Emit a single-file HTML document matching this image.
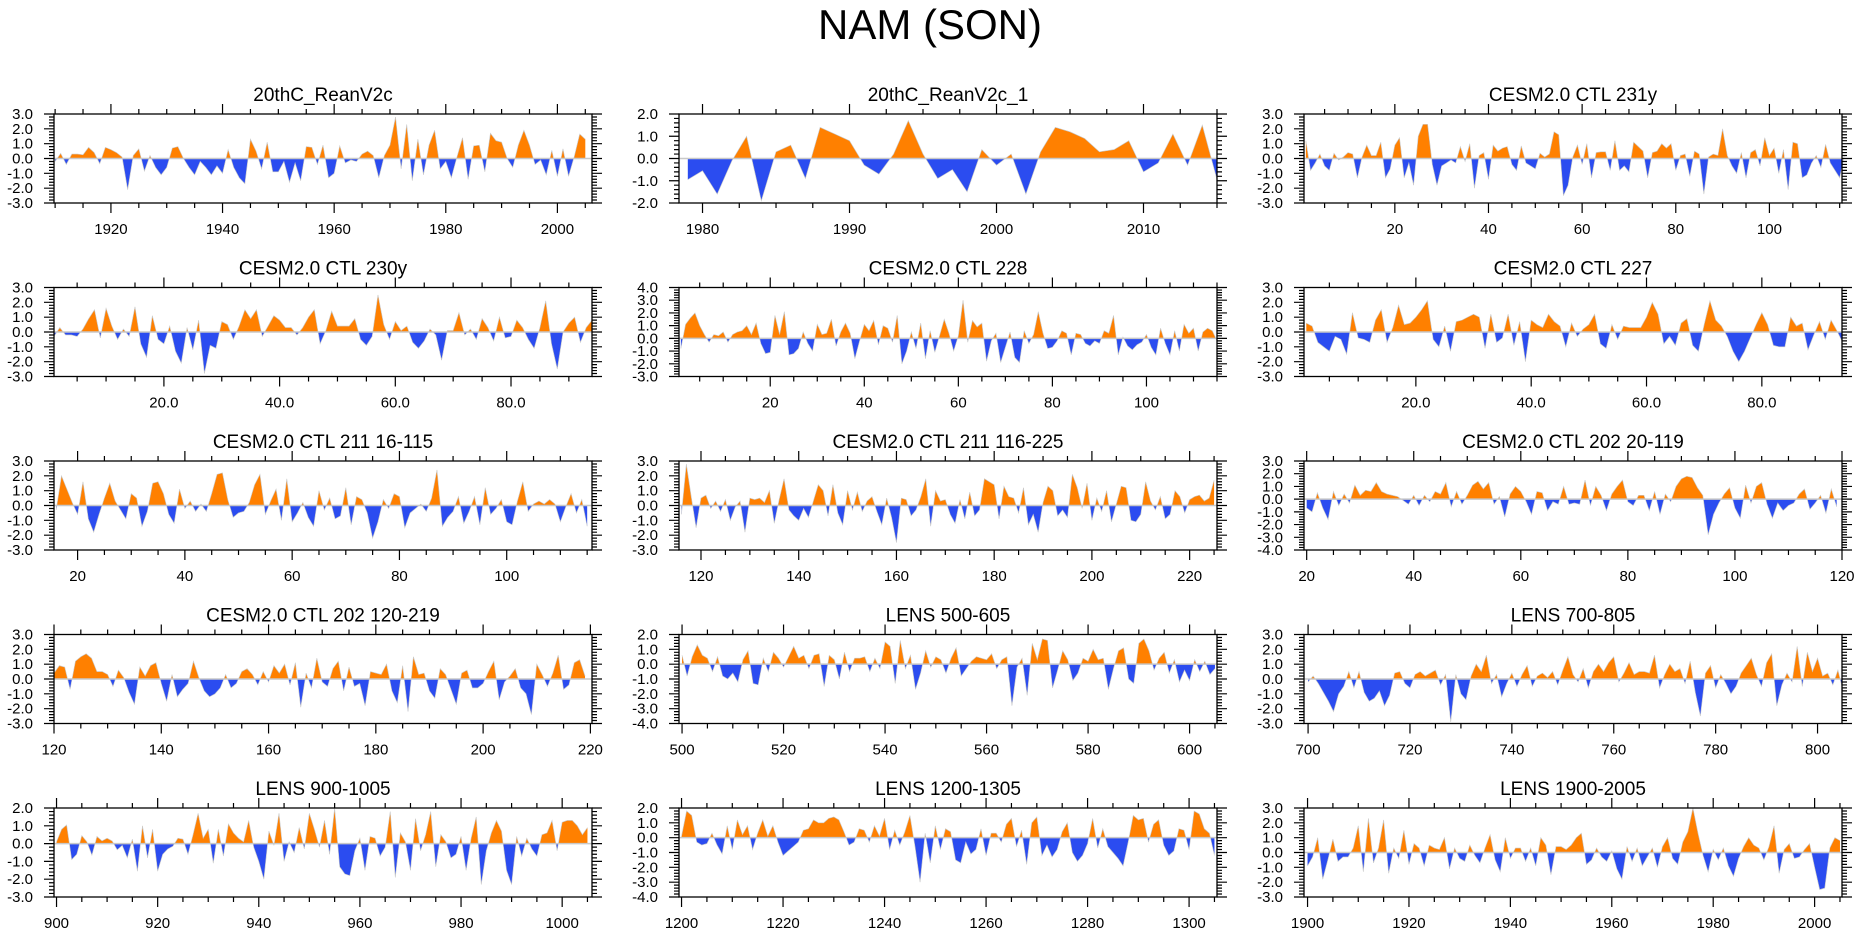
<!DOCTYPE html>
<html><head><meta charset="utf-8"><title>NAM (SON)</title>
<style>
html,body{margin:0;padding:0;background:#fff;}
svg{display:block;font-family:"Liberation Sans",Arial,sans-serif;}
</style></head>
<body>
<svg id="fig" width="1861" height="937" viewBox="0 0 1861 937" xmlns="http://www.w3.org/2000/svg">
<rect x="0" y="0" width="1861" height="937" fill="#fff"/>
<text x="930" y="39" text-anchor="middle" font-size="42">NAM (SON)</text>
</svg>
<script>
// ---- data (one array per panel) ----
const titles = ["20thC_ReanV2c","20thC_ReanV2c_1","CESM2.0 CTL 231y","CESM2.0 CTL 230y","CESM2.0 CTL 228","CESM2.0 CTL 227","CESM2.0 CTL 211 16-115","CESM2.0 CTL 211 116-225","CESM2.0 CTL 202 20-119","CESM2.0 CTL 202 120-219","LENS 500-605","LENS 700-805","LENS 900-1005","LENS 1200-1305","LENS 1900-2005"];
const startX = [1910,1979,1,1,1,1,16,116,20,120,500,700,900,1200,1900];
const xMins = [1909.8,1978.4,0.6,1,0.6,0.6,15.6,115.5,19.5,120,499.4,699.2,899.5,1199.5,1899.3];
const xMaxs = [2006.2,2015,115.5,94,115,93.9,115.9,225.6,120,220.3,605.4,804.8,1005.9,1305.5,2005.4];
const yMins = [-3,-2,-3,-3,-3,-3,-3,-3,-4,-3,-4,-3,-3,-4,-3];
const yMaxs = [3,2,3,3,4,3,3,3,3,3,2,3,2,2,3];
const xTickStep = [20,10,20,20,20,20,20,20,20,20,20,20,20,20,20];
const xTickDecimals = [0,0,0,1,0,1,0,0,0,0,0,0,0,0,0];

const s0 = [-0.2,0.35,-0.4,0.3,0.3,0.25,0.75,0.4,-0.35,0.75,0.6,0.4,0.1,-2.1,0.2,0.65,-0.85,0.2,-0.6,-1.1,-0.6,0.7,0.8,0.0,-0.6,-1.1,-0.2,-0.6,-1.1,-0.5,-1.0,0.6,-0.6,-1.3,-1.7,1.3,0.5,-0.7,1.1,-0.9,-0.9,-0.2,-1.6,-0.3,-1.5,0.8,0.75,-0.4,0.9,-1.3,-1.0,0.85,-0.3,-0.1,-0.2,0.3,0.5,0.2,-1.3,0.2,0.9,2.8,-0.7,2.3,-1.5,1.3,-1.1,0.9,1.9,-0.7,-0.2,-1.3,0.1,1.4,-1.4,0.85,0.9,-0.9,1.7,1.2,1.1,0.0,-0.6,0.9,1.9,0.9,-0.4,-0.1,-1.1,0.55,-1.2,0.65,-1.2,0.1,1.65,1.3];
const s1 = [-0.95,-0.55,-1.6,-0.1,1.0,-1.9,0.3,0.6,-0.9,1.4,1.1,0.8,-0.3,-0.7,0.2,1.7,0.2,-0.9,-0.5,-1.5,0.4,-0.3,0.2,-1.6,0.3,1.4,1.2,0.9,0.3,0.4,0.8,-0.6,-0.2,1.1,-0.3,1.5,-0.95];
const s2 = [1.2,-0.8,-0.3,0.3,-0.5,-0.8,0.35,-0.1,0.1,0.4,0.3,-1.3,0.1,0.9,0.2,0.2,1.1,-1.3,-0.7,0.9,1.4,-1.3,-0.3,-1.8,1.5,2.3,2.3,-0.4,-1.8,-0.5,-0.3,-0.1,-0.3,0.8,-0.2,1.0,-2.0,0.2,0.4,-1.4,0.9,0.5,0.7,0.8,-0.4,-0.8,0.85,-0.3,-0.5,-0.7,0.35,0.1,0.3,1.8,1.6,-2.5,-1.8,0.1,0.9,-0.4,1.0,-1.3,0.4,0.45,0.45,-0.8,1.2,-0.8,-0.5,-0.9,1.1,0.8,0.5,-1.3,0.4,0.5,1.0,0.7,1.0,-0.8,0.2,0.3,-1.2,0.5,0.3,-2.4,0.1,0.3,0.2,2.0,0.2,-0.5,-1.0,0.4,-1.3,0.4,0.6,-0.5,1.4,0.2,0.7,-1.0,0.6,-2.1,1.1,1.0,-1.3,-1.1,-0.3,0.2,-0.6,0.95,-0.3,-0.8,-1.3,0.2];
const s3 = [-0.3,0.3,-0.2,-0.2,-0.3,0.2,0.9,1.5,-0.4,1.6,0.4,-0.5,0.2,-0.3,1.7,-0.8,-1.7,1.1,-0.5,-0.8,0.4,-1.3,-2.1,0.3,-1.2,0.8,-2.8,-0.9,-1.1,0.7,0.5,-0.5,0.4,1.5,0.9,1.5,-0.3,0.4,1.1,0.8,0.3,0.3,-0.2,0.3,1.0,1.5,-0.8,0.1,1.4,0.4,0.4,0.4,0.9,-0.5,-0.9,-0.3,2.5,0.5,-0.5,0.7,0.1,0.4,-0.7,-1.1,-0.6,0.2,-0.2,-1.9,0.1,0.1,1.3,-0.2,0.2,-0.5,0.9,0.3,-0.6,1.0,-0.4,-0.3,0.8,0.3,-0.5,-1.1,0.3,2.1,-0.8,-2.5,0.0,0.6,1.0,-0.7,0.3,0.8];
const s4 = [-0.8,1.1,1.6,2.0,1.0,0.3,-0.3,0.3,0.2,0.5,-0.3,0.3,0.5,0.6,1.0,0.3,1.2,-0.4,-1.2,-1.1,1.8,0.3,2.1,-1.3,-1.2,-0.8,0.5,-0.4,-1.0,1.1,0.3,0.4,1.5,-0.6,0.5,1.2,0.4,-1.6,-0.2,1.1,0.6,1.4,-0.5,1.0,0.8,-0.3,1.8,-2.0,-1.0,0.5,-0.8,1.2,-1.6,0.6,-1.1,0.2,1.5,0.4,-1.0,0.2,3.0,-0.3,1.4,0.9,1.2,-1.8,-0.2,0.4,-1.9,-0.7,0.5,-1.5,-1.9,0.6,-0.4,0.3,2.1,0.4,-0.8,-0.7,-0.2,0.6,0.4,-1.3,0.4,0.3,-0.4,-0.6,-0.2,-0.4,0.6,0.4,1.8,-1.3,0.1,-0.6,-0.9,-0.5,-0.3,0.3,-0.7,-1.3,0.8,-0.4,-1.3,0.6,-1.0,1.1,0.4,0.8,-1.0,0.5,0.8,0.6,-0.2];
const s5 = [0.6,0.4,-0.7,-1.0,-1.3,-0.3,-0.5,-1.5,1.3,-0.4,-0.5,-0.7,0.8,1.5,-0.7,0.3,1.8,0.5,0.6,1.0,1.5,2.1,-0.5,-1.0,0.4,-1.3,0.7,0.8,1.0,1.2,1.0,-1.1,1.2,-0.7,-0.4,1.2,-0.9,0.7,-2.0,0.8,0.5,0.3,1.2,0.7,0.4,-1.0,0.6,-0.3,0.2,0.5,1.2,-0.8,-1.1,0.5,-0.5,0.4,0.3,0.3,0.3,1.0,2.0,1.2,-0.8,-0.3,-0.9,0.6,0.9,-0.9,-1.3,0.5,2.1,0.8,0.4,-0.3,-1.3,-2.0,-1.3,-0.4,0.5,1.3,0.5,-0.9,-1.0,-1.0,1.0,0.4,0.6,-1.2,-0.2,0.7,-0.5,0.8,0.1,-0.7];
const s6 = [-0.3,2.0,1.1,0.2,-0.6,1.6,-0.9,-1.8,-0.6,0.5,1.5,0.3,-0.3,-0.9,0.8,0.5,-1.4,-0.4,1.5,1.6,0.8,-0.6,-1.2,1.1,-0.2,0.3,-0.4,0.1,-0.4,0.8,2.1,2.2,0.4,-0.8,-0.5,-0.4,0.2,1.4,2.1,-0.6,0.3,1.1,-1.0,1.8,-1.1,-0.5,0.2,-0.8,-1.4,1.0,-0.3,0.5,-0.9,-0.7,1.2,-1.3,0.6,0.4,-0.5,-2.2,-1.1,0.4,-0.2,0.8,0.6,-1.5,-0.5,-0.2,0.1,-0.4,0.5,2.4,-1.4,-0.8,-0.4,0.6,-1.2,-0.4,0.6,-1.3,1.2,-0.6,-0.2,0.4,-1.1,-1.3,0.3,1.6,-0.4,0.1,0.3,0.1,0.4,0.1,-1.1,-0.1,0.8,-0.5,0.4,-1.4];
const s7 = [-0.6,2.8,0.6,-1.5,0.5,0.7,-0.2,0.3,-0.4,0.4,-1.0,-0.1,0.3,-1.8,0.5,0.4,0.5,0.2,1.0,-1.2,0.4,1.8,-0.3,-0.7,-1.0,-0.2,-0.8,0.3,1.4,1.0,-0.7,1.4,-0.5,-1.3,1.0,-0.3,0.9,-0.4,0.3,0.6,-0.4,-1.3,0.5,-0.8,-2.5,0.5,0.4,-0.7,-0.3,0.6,1.8,-1.4,1.0,0.3,0.4,-0.6,-1.2,0.4,-0.9,0.9,-0.7,-0.3,1.8,1.6,1.4,-0.9,1.3,0.6,0.5,-0.5,1.2,-1.3,-0.6,-1.8,0.2,1.3,1.0,-0.7,-0.3,-0.8,2.1,1.2,-0.2,1.5,-1.0,0.5,-0.4,1.0,-1.1,0.1,1.3,1.2,-1.0,-1.1,-0.6,1.6,0.3,-0.3,0.6,-0.9,-0.6,1.0,0.6,-0.5,0.4,0.6,0.7,0.3,0.5,1.7];
const s8 = [-0.7,-1.0,0.5,-0.7,-1.6,0.6,-0.5,0.4,-0.3,1.1,0.3,0.7,0.6,1.3,0.6,0.4,0.3,0.2,-0.1,-0.4,0.3,-0.5,0.3,-0.2,0.6,0.4,1.3,-0.6,0.6,-0.4,0.3,1.1,1.4,0.8,1.3,-0.4,0.2,-1.4,0.4,1.0,0.6,-0.2,-1.2,0.6,0.5,-0.9,-0.2,-0.4,1.0,-0.4,-0.3,-0.4,1.5,-0.5,1.0,0.3,-0.9,0.4,1.0,1.5,-0.2,-0.5,0.3,0.3,-0.9,0.6,-1.2,0.4,-0.2,1.0,1.6,1.8,1.7,0.9,0.3,-2.8,-1.2,-0.3,0.4,0.9,-0.7,-1.5,1.1,-0.3,1.0,1.3,-0.4,-1.5,-0.3,-0.9,-0.5,-0.3,0.4,0.8,-0.8,-0.3,0.3,-1.1,0.8,-0.6];
const s9 = [0.4,0.9,0.8,-0.7,1.2,1.5,1.7,1.4,0.5,0.5,0.3,-0.5,0.6,0.1,-0.9,-1.7,0.8,0.2,0.9,1.1,-0.3,-1.5,0.3,-1.2,-0.7,-0.3,1.2,0.1,-0.8,-1.2,-1.0,-0.6,0.3,-0.6,-0.3,0.5,0.7,0.3,-0.4,0.5,-0.2,0.9,0.4,1.0,-0.4,1.1,-1.9,0.4,-0.6,1.4,-0.2,-0.5,0.7,1.2,-0.8,0.8,-0.5,-0.3,-1.8,0.5,0.4,0.3,1.0,-0.8,-1.6,0.9,-2.2,1.5,0.3,0.4,-0.8,-1.3,0.7,0.3,-0.7,-1.7,0.4,0.6,-0.6,-0.6,-0.3,0.5,1.2,-1.4,-0.2,0.2,0.7,-0.6,-1.0,-2.4,1.0,0.3,-0.5,0.4,1.6,-0.7,-0.4,1.1,1.3,0.2];
const s10 = [0.6,-0.8,0.5,1.3,0.6,0.4,-0.5,0.5,-0.8,-1.0,-0.6,-1.2,0.3,0.9,-1.3,-1.4,0.4,-0.5,0.8,0.4,-0.2,0.5,1.2,0.4,0.6,-0.3,0.6,0.7,-1.5,0.6,0.3,-1.0,0.8,-0.5,0.4,0.4,0.5,-0.5,0.4,-0.3,1.5,1.2,-1.3,1.6,-0.3,0.6,-1.7,-0.6,0.9,-0.2,0.5,0.3,-0.6,0.4,1.1,-0.8,-0.3,0.2,0.5,0.4,0.3,0.7,-0.3,0.3,0.5,-2.8,-0.2,0.4,-2.1,1.4,0.3,1.7,1.6,-1.6,-0.4,0.9,0.3,-1.1,-0.6,0.4,0.2,1.0,0.3,0.4,-1.7,-0.3,0.9,1.1,-1.0,-1.3,1.4,1.7,0.9,-0.4,0.4,0.8,-0.6,0.3,-1.2,-0.4,-1.1,0.3,-0.5,0.2,-0.7,-0.3];
const s11 = [-0.2,0.2,-0.3,-0.9,-1.5,-2.2,-1.0,-0.5,0.5,-0.6,0.5,-0.9,-1.5,-1.3,-0.8,-1.8,-1.1,0.4,0.5,-0.3,-0.6,0.3,0.5,0.2,0.4,0.6,-0.4,0.3,-2.9,0.3,-1.0,-1.4,0.2,1.0,0.5,1.6,-0.3,0.3,-1.2,-0.3,0.4,-0.5,0.3,0.9,-0.5,0.2,0.4,0.1,0.5,-0.4,0.6,1.5,0.3,-0.2,0.7,-0.6,0.5,1.0,0.5,1.1,1.5,-0.2,0.4,1.1,0.3,0.5,0.5,0.4,1.6,-0.6,0.3,1.0,0.5,0.7,-0.3,1.2,-0.9,-2.5,0.4,0.9,-0.6,0.3,-0.3,-1.0,-0.5,0.4,0.9,1.4,0.3,-0.5,1.1,1.7,-1.8,-0.4,0.4,-0.2,2.2,-0.5,1.8,0.5,1.4,0.2,0.4,-0.4,0.6,-0.8];
const s12 = [0.1,0.8,1.05,-0.9,-0.6,0.45,0.1,-0.65,0.4,0.15,0.3,0.15,-0.35,-0.1,-0.8,0.25,-1.55,1.0,-0.8,0.8,-1.55,-0.6,-0.3,-0.15,0.3,0.25,-0.6,0.5,1.7,0.3,0.8,-1.1,0.8,-0.7,1.1,0.6,0.3,0.1,1.3,-0.2,-1.0,-2.0,0.7,-0.1,1.7,-1.0,0.1,-0.5,0.9,-0.3,1.7,0.8,-0.2,1.3,-0.6,2.0,-1.3,-1.7,-1.8,-0.4,0.3,-1.5,0.4,0.3,-0.7,-0.2,1.8,-1.9,0.6,0.1,-1.5,1.4,-0.4,0.5,1.8,-1.3,0.5,0.1,-0.8,-0.6,0.4,-1.5,0.3,1.5,-2.3,-0.4,0.6,1.3,0.7,-1.5,-2.3,0.4,-0.7,0.3,-0.3,-0.7,0.5,0.6,1.3,-0.4,1.2,1.3,1.3,1.0,0.5,0.9];
const s13 = [0.1,1.8,1.5,-0.3,-0.5,-0.4,0.3,-0.5,-1.1,0.8,-0.8,1.2,0.2,0.8,-0.8,0.3,1.2,0.1,0.8,-0.3,-1.2,-0.9,-0.6,-0.3,0.5,0.6,1.2,1.0,1.0,1.3,1.4,1.2,0.4,-0.5,-0.3,0.6,0.5,-0.3,0.8,0.1,1.3,-0.8,0.5,-0.5,0.4,1.5,-0.6,-3.0,0.3,-1.7,0.8,-0.8,0.6,0.4,-1.5,-1.7,-0.3,-1.1,-0.8,0.6,-1.2,0.3,0.3,-0.3,0.9,1.3,-0.6,0.5,-1.8,1.0,1.4,-1.2,-0.5,-1.3,-0.8,0.4,1.0,-1.0,-1.6,-1.2,-0.4,1.3,-0.7,0.6,-0.6,-1.0,-1.4,-1.9,-0.3,1.5,1.2,1.3,-0.3,0.9,1.2,-0.5,-1.2,-0.9,0.6,0.5,-0.8,1.8,1.6,0.6,0.3,-1.2];
const s14 = [-0.9,-0.3,1.0,-1.8,-0.5,0.9,-0.6,-0.3,-0.3,0.3,1.8,-1.3,2.3,-0.7,0.3,2.2,-1.4,0.3,-0.4,1.5,-0.8,0.6,0.3,-0.9,0.5,0.3,0.2,1.0,-1.1,0.3,-0.4,-0.6,0.5,-0.2,-0.7,0.3,1.2,-0.5,-1.3,1.0,-0.4,0.3,0.3,-0.6,0.3,-0.9,1.0,0.5,-1.5,0.4,0.4,0.2,0.5,1.0,1.3,-0.8,-0.5,0.3,-0.3,-0.6,0.1,-1.1,-1.8,0.4,-0.6,0.3,-0.9,-0.3,0.3,-1.0,0.4,1.0,-0.4,-0.8,0.7,1.4,3.0,1.3,-0.2,-1.3,0.2,-0.5,0.3,-0.9,-1.6,-0.4,0.4,1.0,0.5,0.3,-0.5,0.4,1.8,-1.4,0.2,0.6,-0.4,-0.3,0.2,0.6,-1.0,-2.5,-2.4,0.3,1.0,0.8];
const series = [s0,s1,s2,s3,s4,s5,s6,s7,s8,s9,s10,s11,s12,s13,s14];

// ---- layout ----
const NS = "http://www.w3.org/2000/svg";
const svg = document.getElementById('fig');
const colLeft = [54, 679, 1304];
const rowTop = [114, 287.5, 461, 634.5, 808];
const W = 538, H = 89;
const ORANGE = "#ff8000", BLUE = "#2b4cf0";

function mk(tag, attrs, parent) {
  const e = document.createElementNS(NS, tag);
  for (const k in attrs) e.setAttribute(k, attrs[k]);
  (parent || svg).appendChild(e);
  return e;
}

for (let p = 0; p < 15; p++) {
  const L = colLeft[p % 3], T = rowTop[Math.floor(p / 3)];
  const xmin = xMins[p], xmax = xMaxs[p], ymin = yMins[p], ymax = yMaxs[p];
  const sx = v => L + (v - xmin) / (xmax - xmin) * W;
  const sy = v => T + (ymax - v) / (ymax - ymin) * H;
  const g = mk('g', {});
  
  

  const t = mk('text', {x: L + W / 2, y: T - 13, 'text-anchor': 'middle', 'font-size': 19}, g);
  t.textContent = titles[p];
  
  

  const cid = 'c' + p;
  const defs = mk('defs', {}, g);
  const cpA = mk('clipPath', {id: cid + 'a'}, defs);
  mk('rect', {x: L, y: T, width: W, height: sy(0) - T}, cpA);
  const cpB = mk('clipPath', {id: cid + 'b'}, defs);
  mk('rect', {x: L, y: sy(0), width: W, height: T + H - sy(0)}, cpB);

  const vals = series[p];
  let d = 'M' + sx(startX[p]).toFixed(2) + ',' + sy(0).toFixed(2);
  let line = '';
  vals.forEach((v, i) => {
    const X = sx(startX[p] + i).toFixed(2), Y = sy(v).toFixed(2);
    d += 'L' + X + ',' + Y;
    line += (i ? 'L' : 'M') + X + ',' + Y;
  });
  d += 'L' + sx(startX[p] + vals.length - 1).toFixed(2) + ',' + sy(0).toFixed(2) + 'Z';
  const pos = mk('path', {d: d, fill: ORANGE, 'clip-path': 'url(#' + cid + 'a)'}, g);
  
  
  const neg = mk('path', {d: d, fill: BLUE, 'clip-path': 'url(#' + cid + 'b)'}, g);
  
  
  const ln = mk('path', {d: line, fill: 'none', stroke: '#c8c8c8', 'stroke-width': 0.6}, g);
  
  
  const zl = mk('line', {x1: L, x2: L + W, y1: sy(0), y2: sy(0), stroke: '#c8c8c8', 'stroke-width': 1.5}, g);
  
  

  const fr = mk('rect', {x: L, y: T, width: W, height: H, fill: 'none', stroke: '#000', 'stroke-width': 1.3}, g);
  
  

  let tk = '';
  for (let v = ymin; v <= ymax + 1e-6; v += 0.2) {
    const maj = Math.abs(v - Math.round(v)) < 1e-6;
    const len = maj ? 10 : 5, Y = sy(v).toFixed(2);
    tk += 'M' + L + ',' + Y + 'h' + (-len) + 'M' + (L + W) + ',' + Y + 'h' + len;
    if (maj) {
      const yl = mk('text', {x: L - 21, y: sy(v) + 5, 'text-anchor': 'end', 'font-size': 15}, g);
      yl.textContent = Math.round(v).toFixed(1);
      
      
    }
  }
  const st = xTickStep[p], ms = st / 4;
  for (let v = Math.ceil(xmin / ms) * ms; v <= xmax + 1e-6; v += ms) {
    const maj = Math.abs(v / st - Math.round(v / st)) < 1e-6;
    const len = maj ? 10 : 5, X = sx(v).toFixed(2);
    tk += 'M' + X + ',' + (T + H) + 'v' + len + 'M' + X + ',' + T + 'v' + (-len);
    if (maj) {
      const xl = mk('text', {x: sx(v), y: T + H + 31, 'text-anchor': 'middle', 'font-size': 15}, g);
      xl.textContent = v.toFixed(xTickDecimals[p]);
      
      
    }
  }
  const tp = mk('path', {d: tk, stroke: '#000', 'stroke-width': 1.2, fill: 'none'}, g);
  
  
}
</script>
</body></html>
